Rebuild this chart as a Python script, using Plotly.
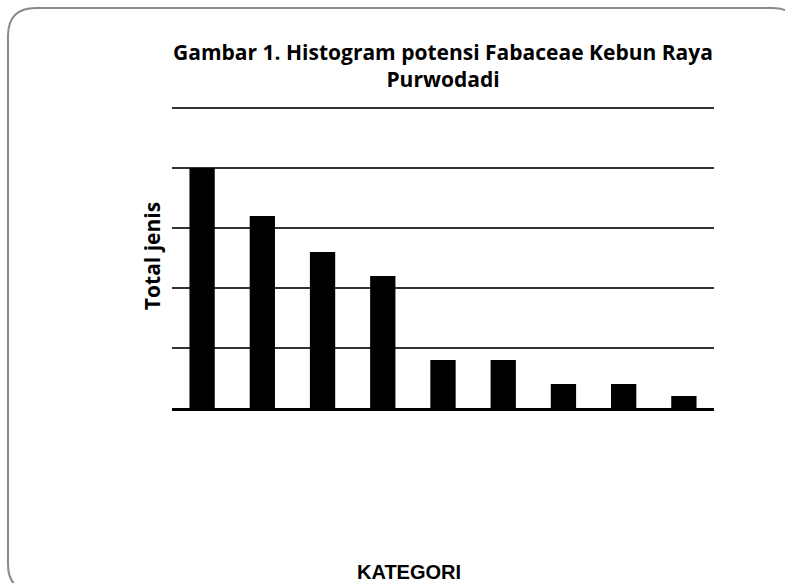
import plotly.graph_objects as go

categories = ["1", "2", "3", "4", "5", "6", "7", "8", "9"]
total_jenis = [20, 16, 13, 11, 4, 4, 2, 2, 1]

W, H = 785, 583
L, R, T, B = 172, 71, 104, 175
PW, PH = W - L - R, H - T - B
Y_TOP = 25 + 4 / 12  # a few pixels of headroom so the top gridline (25) is drawn


def px(x):
    return (x - L) / PW


def py(y):
    return (H - B - y) / PH


def rounded_rect(x0, y0, x1, y1, r):
    return (
        f"M {px(x0 + r)} {py(y0)} L {px(x1 - r)} {py(y0)} "
        f"Q {px(x1)} {py(y0)} {px(x1)} {py(y0 + r)} "
        f"L {px(x1)} {py(y1 - r)} "
        f"Q {px(x1)} {py(y1)} {px(x1 - r)} {py(y1)} "
        f"L {px(x0 + r)} {py(y1)} "
        f"Q {px(x0)} {py(y1)} {px(x0)} {py(y1 - r)} "
        f"L {px(x0)} {py(y0 + r)} "
        f"Q {px(x0)} {py(y0)} {px(x0 + r)} {py(y0)} Z"
    )


fig = go.Figure(
    go.Bar(x=categories, y=total_jenis, marker=dict(color="black", line=dict(width=0)))
)

fig.update_layout(
    width=W,
    height=H,
    margin=dict(l=L, r=R, t=T, b=B),
    paper_bgcolor="white",
    plot_bgcolor="white",
    bargap=0.58,
    showlegend=False,
    title=dict(
        text="Gambar 1. Histogram potensi Fabaceae Kebun Raya<br>Purwodadi",
        x=0.5,
        xref="paper",
        xanchor="center",
        y=1 - 60 / H,
        yanchor="top",
        font=dict(family="Open Sans", size=21, color="black", weight="bold"),
    ),
    font=dict(family="Open Sans", color="black"),
)

fig.update_xaxes(
    showticklabels=False,
    ticks="",
    showgrid=False,
    showline=True,
    linecolor="black",
    linewidth=3,
)
fig.update_yaxes(
    range=[0, Y_TOP],
    tickvals=[5, 10, 15, 20, 25],
    showticklabels=False,
    ticks="",
    showgrid=True,
    gridcolor="#333333",
    gridwidth=2,
    zeroline=False,
    showline=False,
    title=dict(
        text="Total jenis",
        standoff=4,
        font=dict(family="Open Sans", size=21, color="black", weight="bold"),
    ),
)

fig.add_annotation(
    text="KATEGORI",
    xref="paper",
    yref="paper",
    x=px(409),
    y=py(572),
    xanchor="center",
    yanchor="middle",
    showarrow=False,
    font=dict(family="Liberation Sans, Arial", size=20, color="black", weight="bold"),
)

fig.add_shape(
    type="path",
    xref="paper",
    yref="paper",
    path=rounded_rect(8, 8, 800, 592, 28),
    line=dict(color="#8a8a8a", width=2),
    layer="below",
)

fig.write_html(
    "out.html",
    config={"displayModeBar": False},
    post_script="document.body.style.margin='0';",
)
